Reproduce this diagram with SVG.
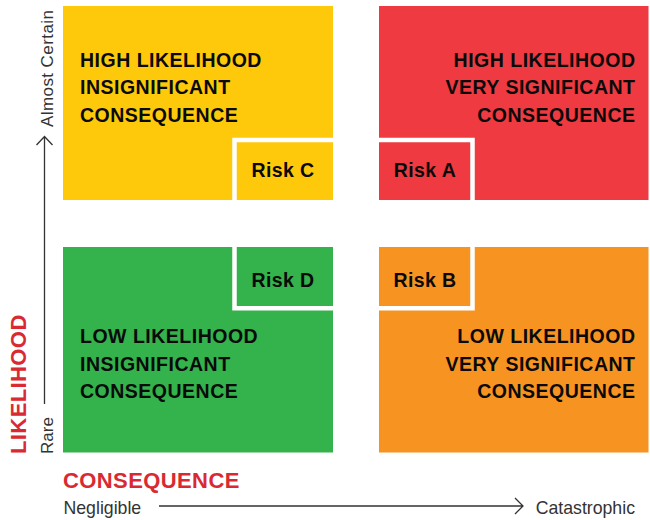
<svg xmlns="http://www.w3.org/2000/svg" width="650" height="520" viewBox="0 0 650 520">
<style>
.q{font-family:"Liberation Sans",Arial,sans-serif;font-weight:bold;font-size:19.5px;letter-spacing:0.5px;fill:#0a0a0a}
.r{font-family:"Liberation Sans",Arial,sans-serif;font-weight:bold;font-size:19.5px;letter-spacing:0.4px;fill:#0a0a0a;text-anchor:middle}
.ax{font-family:"Liberation Sans",Arial,sans-serif;font-size:17px;fill:#333}
.ah{font-family:"Liberation Sans",Arial,sans-serif;font-size:17.7px;fill:#333}
.tt{font-family:"Liberation Sans",Arial,sans-serif;font-weight:bold;font-size:22px;letter-spacing:0.4px;fill:#d92a33}
.brd{fill:none;stroke:#fff;stroke-width:4.5}
.axl{fill:none;stroke:#333;stroke-width:1.3}
</style>
<rect width="650" height="520" fill="#fff"/>
<g id="q-high-insig">
<rect x="63" y="6" width="270" height="194" fill="#ffc90b"/>
<text class="q" x="80" y="66.5">HIGH LIKELIHOOD</text>
<text class="q" x="80" y="94">INSIGNIFICANT</text>
<text class="q" x="80" y="121.5">CONSEQUENCE</text>
</g>
<g id="q-high-sig">
<rect x="379" y="6" width="269.5" height="194" fill="#ee3a40"/>
<text class="q" x="635.5" y="66.5" text-anchor="end">HIGH LIKELIHOOD</text>
<text class="q" x="635.5" y="94" text-anchor="end">VERY SIGNIFICANT</text>
<text class="q" x="635.5" y="121.5" text-anchor="end">CONSEQUENCE</text>
</g>
<g id="q-low-insig">
<rect x="63" y="247" width="270" height="205.5" fill="#34b24b"/>
<text class="q" x="80" y="343.3">LOW LIKELIHOOD</text>
<text class="q" x="80" y="371">INSIGNIFICANT</text>
<text class="q" x="80" y="397.5">CONSEQUENCE</text>
</g>
<g id="q-low-sig">
<rect x="379" y="247" width="269.5" height="205.5" fill="#f79421"/>
<text class="q" x="635.5" y="343.3" text-anchor="end">LOW LIKELIHOOD</text>
<text class="q" x="635.5" y="371" text-anchor="end">VERY SIGNIFICANT</text>
<text class="q" x="635.5" y="397.5" text-anchor="end">CONSEQUENCE</text>
</g>
<g id="risk-c">
<path class="brd" d="M234.5,200 V140 H333"/>
<text class="r" x="283" y="176.7">Risk C</text>
</g>
<g id="risk-a">
<path class="brd" d="M379,140 H472.5 V200"/>
<text class="r" x="425" y="176.7">Risk A</text>
</g>
<g id="risk-d">
<path class="brd" d="M234.5,247 V308.3 H333"/>
<text class="r" x="283" y="287.3">Risk D</text>
</g>
<g id="risk-b">
<path class="brd" d="M379,308.3 H472.5 V247"/>
<text class="r" x="425" y="287.3">Risk B</text>
</g>
<g id="connectors">
<path class="axl" d="M44.5,404 V136.5 M36.5,145 L44.5,136.5 L52.5,145"/>
<path class="axl" d="M159,506 H523 M515,498 L523,506 L515,514"/>
</g>
<g id="axis-labels">
<text class="ax" transform="translate(52.5,127) rotate(-90)" textLength="117">Almost Certain</text>
<text class="ax" transform="translate(52.5,454) rotate(-90)">Rare</text>
<text class="tt" transform="translate(26,454) rotate(-90)">LIKELIHOOD</text>
<text class="tt" x="63" y="487.7">CONSEQUENCE</text>
<text class="ah" x="63.5" y="514">Negligible</text>
<text class="ah" x="535.7" y="514">Catastrophic</text>
</g>
</svg>
